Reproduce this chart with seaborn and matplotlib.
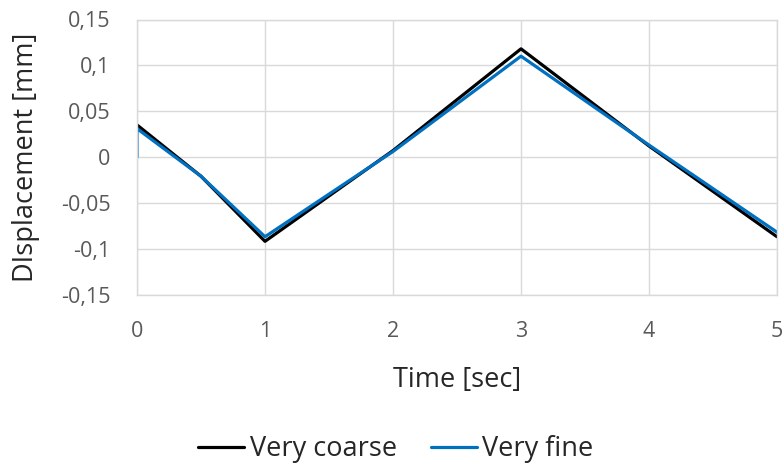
import matplotlib
matplotlib.use("Agg")
import matplotlib.pyplot as plt
import seaborn as sns
import pandas as pd

# Displacement histories for the two mesh resolutions
time_coarse = [0.0, 0.5, 1.0, 2.0, 3.0, 4.0, 5.0]
disp_coarse = [0.035, -0.021, -0.092, 0.007, 0.118, 0.012, -0.087]

time_fine = [0.0, 0.0, 0.5, 1.0, 2.0, 3.0, 4.0, 5.0]
disp_fine = [0.0, 0.031, -0.021, -0.087, 0.006, 0.110, 0.013, -0.082]

series_names = ["Very coarse", "Very fine"]
series_colors = ["#000000", "#0070C0"]

x_ticks = [0, 1, 2, 3, 4, 5]
y_ticks = [-0.15, -0.1, -0.05, 0, 0.05, 0.1, 0.15]
y_tick_labels = ["-0,15", "-0,1", "-0,05", "0", "0,05", "0,1", "0,15"]

df = pd.concat([
    pd.DataFrame({"Time": time_coarse, "Disp": disp_coarse, "Mesh": series_names[0]}),
    pd.DataFrame({"Time": time_fine, "Disp": disp_fine, "Mesh": series_names[1]}),
], ignore_index=True)

sns.set_theme(style="white")
plt.rcParams["font.family"] = ["Open Sans", "DejaVu Sans"]

W, H = 782, 463
fig = plt.figure(figsize=(W / 100, H / 100), dpi=100)
ax_left, ax_right, ax_top, ax_bottom = 137, 777, 19.5, 294.5
ax = fig.add_axes([ax_left / W, 1 - ax_bottom / H,
                   (ax_right - ax_left) / W, (ax_bottom - ax_top) / H])

grid_color = "#d9d9d9"
sns.lineplot(data=df, x="Time", y="Disp", hue="Mesh", palette=series_colors,
             estimator=None, sort=False, linewidth=2.3, ax=ax, legend=False)

ax.set_xlim(0, 5)
ax.set_ylim(-0.15, 0.15)
ax.set_xticks(x_ticks)
ax.set_yticks(y_ticks)
ax.set_yticklabels(y_tick_labels)
ax.grid(True, color=grid_color, linewidth=1.0)
ax.set_axisbelow(True)
for s in ax.spines.values():
    s.set_color(grid_color)
    s.set_linewidth(1.0)
ax.tick_params(axis="both", length=0, labelsize=15.5, colors="#595959")
ax.tick_params(axis="y", pad=19)
ax.tick_params(axis="x", pad=19)

ax.set_xlabel("Time [sec]", fontsize=19.5, color="#262626")
ax.set_ylabel("DIsplacement [mm]", fontsize=19.5, color="#262626")
ax.xaxis.label.set_va("center")
ax.yaxis.label.set_va("center")
ax.xaxis.set_label_coords(0.5, (ax_bottom - 380) / (ax_bottom - ax_top))
ax.yaxis.set_label_coords((26 - ax_left) / (ax_right - ax_left), 0.5)

handles = [plt.Line2D([], [], color=c, linewidth=2.3) for c in series_colors]
fig.legend(handles, series_names, loc="center", bbox_to_anchor=(396 / W, 1 - 449 / H),
           ncol=2, frameon=False, fontsize=19.5, handlelength=1.7, handletextpad=0.2,
           columnspacing=1.25, labelcolor="#262626", borderpad=0)

fig.savefig("out.png", dpi=100)
